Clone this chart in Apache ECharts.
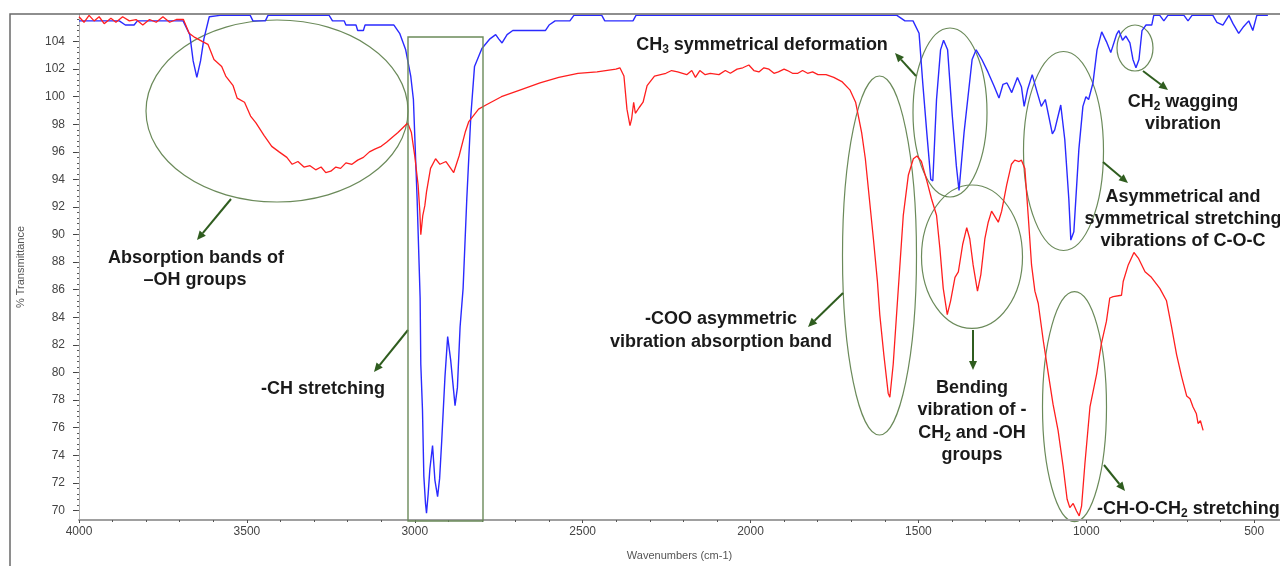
<!DOCTYPE html>
<html>
<head>
<meta charset="utf-8">
<script src="https://cdn.jsdelivr.net/npm/echarts@6/dist/echarts.min.js"></script>
<style>
  html, body { margin: 0; padding: 0; background: #fff; }
  #chart { width: 1280px; height: 566px; }
</style>
</head>
<body>
<div id="chart"></div>
<script>
// FTIR spectra (wavenumber cm-1 / % transmittance)
const blueWn = [4000, 3880, 3862, 3836, 3826, 3690, 3670, 3660, 3649, 3638, 3628, 3612, 3580, 3490, 3482, 3445, 3437, 3255, 3245, 3210, 3205, 3175, 3170, 3153, 3148, 3062, 3045, 3027, 3012, 3004, 2993, 2984, 2982, 2977, 2973, 2968, 2965, 2960, 2955, 2947, 2940, 2932, 2926, 2920, 2910, 2902, 2893, 2880, 2873, 2865, 2856, 2845, 2833, 2822, 2800, 2776, 2759, 2750, 2740, 2725, 2708, 2611, 2600, 2582, 2538, 2526, 2443, 2434, 2350, 2341, 1564, 1540, 1516, 1498, 1487, 1475, 1463, 1457, 1446, 1434, 1425, 1413, 1399, 1387, 1379, 1364, 1340, 1328, 1311, 1293, 1275, 1260, 1248, 1236, 1222, 1205, 1193, 1185, 1175, 1161, 1146, 1134, 1122, 1101, 1094, 1076, 1064, 1052, 1046, 1037, 1022, 1010, 1001, 993, 980, 968, 954, 940, 927, 910, 903, 892, 882, 870, 861, 852, 843, 834, 822, 805, 799, 781, 769, 757, 709, 697, 685, 623, 611, 593, 575, 563, 546, 531, 516, 504, 492, 459];
const blueT = [105.5, 105.5, 105.2, 105.2, 105.5, 105.5, 104.5, 102.6, 101.4, 102.6, 104.2, 105.8, 105.9, 105.9, 105.5, 105.5, 105.9, 105.9, 105.5, 105.5, 105.2, 105.2, 104.8, 104.8, 105.2, 105.2, 104.6, 103.4, 101.5, 99.8, 92.6, 85.4, 80.6, 77.3, 72.5, 70.5, 69.8, 71.2, 73.0, 74.7, 72.2, 71.0, 72.3, 74.9, 79.7, 82.6, 80.9, 77.6, 78.9, 83.3, 86.1, 92.6, 98.6, 102.2, 103.5, 104.2, 104.5, 104.2, 103.9, 104.5, 104.8, 104.8, 105.2, 105.5, 105.5, 105.9, 105.9, 105.5, 105.5, 105.9, 105.9, 105.5, 105.5, 104.6, 101.0, 97.4, 94.0, 93.9, 99.8, 103.4, 104.1, 103.4, 98.6, 95.0, 93.2, 97.4, 102.7, 103.4, 102.7, 101.8, 100.8, 99.9, 100.9, 101.0, 100.3, 101.4, 100.7, 99.3, 100.5, 101.6, 100.3, 99.3, 99.8, 97.3, 97.6, 99.4, 96.9, 92.6, 89.6, 90.2, 96.2, 99.3, 100.0, 99.8, 101.0, 103.4, 104.7, 104.0, 103.2, 104.5, 104.8, 104.1, 104.4, 103.9, 102.7, 102.1, 102.7, 104.8, 105.2, 105.2, 105.9, 105.9, 105.5, 105.9, 105.9, 105.5, 105.9, 105.9, 105.4, 105.2, 105.9, 105.3, 104.6, 105.1, 105.5, 104.8, 105.9, 105.9];

const redWn = [4000, 3985, 3970, 3955, 3940, 3925, 3905, 3890, 3870, 3850, 3830, 3810, 3790, 3770, 3750, 3730, 3710, 3689, 3672, 3655, 3632, 3616, 3598, 3575, 3563, 3541, 3529, 3507, 3489, 3473, 3449, 3426, 3404, 3381, 3365, 3348, 3330, 3312, 3295, 3279, 3265, 3250, 3235, 3221, 3205, 3187, 3170, 3153, 3135, 3119, 3100, 3084, 3065, 3050, 3021, 3010, 3000, 2990, 2985, 2982, 2976, 2970, 2965, 2953, 2938, 2925, 2907, 2884, 2868, 2850, 2839, 2810, 2788, 2742, 2685, 2627, 2571, 2514, 2457, 2401, 2389, 2377, 2368, 2359, 2354, 2348, 2343, 2332, 2320, 2308, 2286, 2252, 2235, 2217, 2190, 2175, 2164, 2151, 2135, 2120, 2094, 2075, 2060, 2040, 2023, 2005, 1990, 1975, 1960, 1945, 1930, 1917, 1900, 1890, 1875, 1859, 1845, 1830, 1815, 1799, 1775, 1752, 1728, 1704, 1687, 1669, 1658, 1646, 1634, 1622, 1615, 1603, 1590, 1585, 1575, 1565, 1555, 1545, 1530, 1515, 1504, 1491, 1476, 1461, 1446, 1436, 1426, 1414, 1404, 1391, 1381, 1368, 1356, 1347, 1337, 1324, 1314, 1302, 1292, 1282, 1272, 1262, 1252, 1237, 1223, 1213, 1200, 1193, 1183, 1173, 1163, 1153, 1143, 1128, 1113, 1099, 1084, 1069, 1057, 1049, 1039, 1029, 1021, 1014, 1004, 989, 969, 955, 940, 930, 920, 895, 890, 875, 858, 845, 825, 806, 781, 761, 746, 731, 716, 701, 691, 682, 672, 667, 660, 652];
const redT = [105.8, 105.4, 105.9, 105.5, 105.8, 105.3, 105.7, 105.4, 105.8, 105.5, 105.6, 105.2, 105.6, 105.4, 105.8, 105.4, 105.6, 105.6, 104.6, 104.3, 104.0, 103.8, 102.7, 102.2, 101.5, 100.8, 99.9, 99.6, 98.6, 98.1, 97.2, 96.4, 96.0, 95.6, 95.1, 95.3, 94.9, 95.0, 94.7, 94.9, 94.5, 94.6, 94.9, 94.8, 95.2, 95.1, 95.4, 95.6, 96.0, 96.2, 96.4, 96.7, 97.1, 97.4, 98.1, 97.4, 95.7, 93.6, 91.7, 90.0, 91.4, 92.1, 93.1, 94.8, 95.5, 95.1, 95.3, 94.5, 95.7, 97.4, 98.2, 99.1, 99.4, 100.0, 100.5, 101.0, 101.4, 101.7, 101.8, 102.0, 102.1, 101.5, 99.1, 97.9, 98.4, 99.6, 98.8, 99.2, 99.6, 100.8, 101.5, 101.7, 101.9, 101.8, 101.6, 101.9, 101.4, 101.9, 101.6, 101.7, 101.6, 101.9, 101.7, 102.0, 102.1, 102.3, 101.9, 101.8, 102.1, 102.0, 101.7, 101.8, 102.0, 101.9, 101.7, 101.7, 101.9, 101.7, 101.8, 101.6, 101.6, 101.4, 101.1, 100.5, 99.6, 97.4, 95.5, 92.6, 89.7, 86.6, 84.2, 81.3, 78.5, 78.2, 80.6, 84.2, 87.8, 91.4, 94.3, 95.5, 95.7, 95.3, 94.0, 92.6, 91.4, 89.0, 86.1, 84.2, 85.2, 86.9, 87.3, 89.3, 90.5, 89.7, 87.8, 85.9, 87.1, 89.7, 90.9, 91.7, 91.3, 90.9, 91.7, 93.6, 95.1, 95.4, 95.3, 95.4, 94.8, 91.4, 87.8, 85.9, 85.0, 82.3, 79.9, 77.7, 75.8, 73.2, 70.8, 70.2, 70.5, 69.95, 69.6, 70.3, 73.4, 77.5, 79.9, 82.1, 83.7, 85.4, 85.5, 85.6, 86.6, 87.8, 88.7, 88.3, 87.3, 86.9, 86.1, 85.2, 83.3, 81.3, 79.7, 78.3, 78.1, 77.5, 77.0, 76.3, 76.5, 75.8];

const xTicks = [500, 1000, 1500, 2000, 2500, 3000, 3500, 4000];
const yTicks = [70, 72, 74, 76, 78, 80, 82, 84, 86, 88, 90, 92, 94, 96, 98, 100, 102, 104];

const xMin = 423, xMax = 4000;
const yMin = 69.3, yMax = 106;
const font = "'Liberation Sans', Arial, sans-serif";
const green = '#2f5d1f';
const ellipseColor = '#6b8a5a';

const xMinor = [];
for (let v = 500; v <= 4000; v += 100) xMinor.push(v);
const yMinor = [];
for (let v = 70; v <= 105.9; v += 0.4) yMinor.push(+v.toFixed(1));

const zip = (a, b) => a.map((v, i) => [v, b[i]]);

function arrow(x1, y1, x2, y2) {
  const a = Math.atan2(y2 - y1, x2 - x1);
  const L = 9, W = 4;
  const bx = x2 - L * Math.cos(a), by = y2 - L * Math.sin(a);
  const px = -Math.sin(a) * W, py = Math.cos(a) * W;
  return [
    { type: 'line', shape: { x1, y1, x2: bx, y2: by }, style: { stroke: green, lineWidth: 2 } },
    { type: 'polygon', shape: { points: [[x2, y2], [bx + px, by + py], [bx - px, by - py]] }, style: { fill: green } },
  ];
}

function ellipse(cx, cy, rx, ry) {
  return { type: 'ellipse', shape: { cx, cy, rx, ry }, style: { fill: 'none', stroke: ellipseColor, lineWidth: 1.2 } };
}

const rich = {
  b: { fontSize: 18, fontWeight: 'bold', fontFamily: font, color: '#1a1a1a' },
  s: { fontSize: 12, fontWeight: 'bold', fontFamily: font, color: '#1a1a1a', padding: [9, 0, 0, 0] },
};

function label(x, y, text, align) {
  return {
    type: 'text', x, y,
    style: { text, rich, align: align || 'center', verticalAlign: 'middle', font: 'bold 18px ' + font, fill: '#1a1a1a' },
  };
}

const chart = echarts.init(document.getElementById('chart'));

const option = {
  animation: false,
  backgroundColor: '#fff',
  grid: { left: 79, right: 0, top: 14, bottom: 42 },
  xAxis: [
    {
      type: 'value', inverse: true, min: xMin, max: xMax,
      name: 'Wavenumbers (cm-1)', nameLocation: 'middle', nameGap: 30,
      nameTextStyle: { color: '#555', fontSize: 11, fontFamily: font },
      axisLine: { lineStyle: { color: '#a0a0a0', width: 2 } },
      axisTick: { customValues: xTicks, length: 3, lineStyle: { color: '#444' } },
      axisLabel: { customValues: xTicks, color: '#444', fontSize: 12, margin: 6, fontFamily: font, formatter: (v) => String(v) },
      splitLine: { show: false },
    },
    {
      type: 'value', inverse: true, min: xMin, max: xMax, position: 'bottom',
      axisLine: { show: false },
      axisTick: { customValues: xMinor, length: 2, lineStyle: { color: '#555' } },
      axisLabel: { show: false },
      splitLine: { show: false },
    },
  ],
  yAxis: [
    {
      type: 'value', min: yMin, max: yMax,
      name: '% Transmittance', nameLocation: 'middle', nameGap: 53,
      nameTextStyle: { color: '#555', fontSize: 11, fontFamily: font },
      axisLine: { show: true, lineStyle: { color: '#b0b0b0', width: 1 } },
      axisTick: { customValues: yTicks, length: 6, lineStyle: { color: '#444' } },
      axisLabel: { customValues: yTicks, color: '#444', fontSize: 12, margin: 14, fontFamily: font },
      splitLine: { show: false },
    },
    {
      type: 'value', min: yMin, max: yMax, position: 'left',
      axisLine: { show: false },
      axisTick: { customValues: yMinor, length: 2, lineStyle: { color: '#555' } },
      axisLabel: { show: false },
      splitLine: { show: false },
    },
  ],
  series: [
    {
      type: 'line', name: 'blue', data: zip(blueWn, blueT), showSymbol: false,
      lineStyle: { color: '#2a2aff', width: 1.4 }, z: 2,
    },
    {
      type: 'line', name: 'red', data: zip(redWn, redT), showSymbol: false,
      lineStyle: { color: '#ff1f1f', width: 1.3 }, z: 3,
    },
  ],
  graphic: [
    { type: 'rect', shape: { x: 10, y: 14, width: 1300, height: 600 }, style: { fill: 'none', stroke: '#6a6a6a', lineWidth: 1.5 }, z: 10 },
    { type: 'rect', shape: { x: 408, y: 37, width: 75, height: 484 }, style: { fill: 'none', stroke: ellipseColor, lineWidth: 1.4 }, z: 10 },
    ellipse(277, 111, 131, 91),
    ellipse(950, 112.5, 37, 84.5),
    ellipse(879.5, 255.5, 37, 179.5),
    ellipse(972, 256.7, 50.5, 71.7),
    ellipse(1063.5, 151, 40, 99.5),
    ellipse(1135, 48, 18, 23),
    ellipse(1074.5, 406.7, 32, 115),
    ...arrow(231, 199, 197, 240),
    ...arrow(408, 330, 374, 372),
    ...arrow(843, 293, 808, 327),
    ...arrow(916, 76, 895, 53),
    ...arrow(973, 330, 973, 370),
    ...arrow(1103, 162, 1128, 183),
    ...arrow(1143, 71, 1168, 90),
    ...arrow(1104, 465, 1125, 491),
    label(196, 258, '{b|Absorption bands of}'),
    label(195, 280, '{b|–OH groups}'),
    label(323, 389, '{b|-CH stretching}'),
    label(721, 319, '{b|-COO asymmetric}'),
    label(721, 342, '{b|vibration absorption band}'),
    label(762, 45, '{b|CH}{s|3}{b| symmetrical deformation}'),
    label(1183, 102, '{b|CH}{s|2}{b| wagging}'),
    label(1183, 124, '{b|vibration}'),
    label(1183, 197, '{b|Asymmetrical and}'),
    label(1183, 219, '{b|symmetrical stretching}'),
    label(1183, 241, '{b|vibrations of C-O-C}'),
    label(972, 388, '{b|Bending}'),
    label(972, 410, '{b|vibration of -}'),
    label(972, 433, '{b|CH}{s|2}{b| and -OH}'),
    label(972, 455, '{b|groups}'),
    label(1097, 509, '{b|-CH-O-CH}{s|2}{b| stretching}', 'left'),
  ],
};

chart.setOption(option);
</script>
</body>
</html>
